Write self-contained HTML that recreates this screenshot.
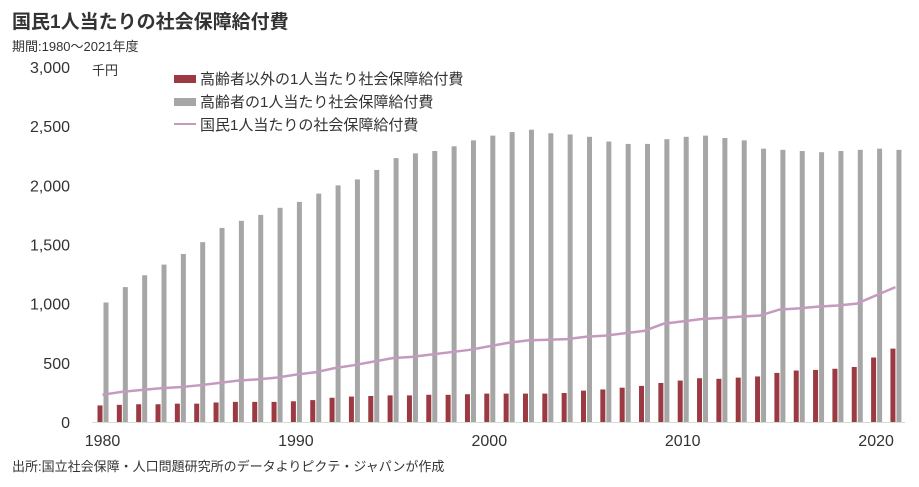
<!DOCTYPE html>
<html><head><meta charset="utf-8">
<style>
body{margin:0;background:#fff;width:919px;height:482px;overflow:hidden;font-family:"Liberation Sans","Noto Sans CJK JP",sans-serif;}
svg text{font-family:"Liberation Sans","Noto Sans CJK JP",sans-serif;}
</style></head>
<body>
<svg id="chart" width="919" height="482">
<text x="12" y="28" font-size="19" font-weight="bold" fill="#333">国民1人当たりの社会保障給付費</text>
<text x="12" y="51" font-size="13" fill="#333">期間:1980～2021年度</text>
<text x="92" y="75" font-size="13" fill="#333">千円</text>
<text x="12" y="471" font-size="13" fill="#333">出所:国立社会保障・人口問題研究所のデータよりピクテ・ジャパンが作成</text>
<g>
<rect x="174" y="75" width="22" height="8" fill="#9b3a42"/>
<text x="200" y="84" font-size="15" fill="#333">高齢者以外の1人当たり社会保障給付費</text>
<rect x="174" y="98" width="22" height="8" fill="#a6a6a6"/>
<text x="200" y="107" font-size="15" fill="#333">高齢者の1人当たり社会保障給付費</text>
<line x1="174" y1="124" x2="196" y2="124" stroke="#c59ac0" stroke-width="2"/>
<text x="200" y="130" font-size="15" fill="#333">国民1人当たりの社会保障給付費</text>
</g>
<g id="plot"></g>
</svg>
<script>
const years=[];for(let y=1980;y<=2021;y++)years.push(y);
const elderly=[1010,1140,1240,1330,1420,1520,1640,1700,1750,1810,1860,1930,2000,2050,2130,2230,2270,2290,2330,2380,2420,2450,2470,2440,2430,2410,2370,2350,2350,2390,2410,2420,2400,2380,2310,2300,2290,2280,2290,2300,2310,2300];
const nonElderly=[140,145,150,150,155,155,165,170,170,170,175,185,205,215,220,225,225,230,230,235,240,240,240,240,245,265,275,290,305,330,350,370,365,375,385,415,435,440,450,465,545,620];
const total=[230,255,270,285,295,310,330,350,360,375,400,420,455,480,510,540,550,570,590,610,640,670,690,695,700,720,730,750,770,830,850,870,880,890,900,950,960,975,985,1000,1070,1140];
const yTicks=[0,500,1000,1500,2000,2500,3000];
const yTickLabels=["0","500","1,000","1,500","2,000","2,500","3,000"];
const xTicks=[1980,1990,2000,2010,2020];

const NS="http://www.w3.org/2000/svg";
const g=document.getElementById('plot');
const xC=yr=>102.5+(yr-1980)*19.34;
const yS=v=>422-v*355/3000;
function mk(tag,attrs){const e=document.createElementNS(NS,tag);for(const k in attrs)e.setAttribute(k,attrs[k]);g.appendChild(e);return e;}

yTicks.forEach((t,i)=>{
  const e=mk('text',{x:70,y:yS(t)+6,'text-anchor':'end','font-size':16,fill:'#333'});
  e.textContent=yTickLabels[i];
  
  
});
xTicks.forEach(t=>{
  const e=mk('text',{x:xC(t),y:446,'text-anchor':'middle','font-size':16,fill:'#333'});
  e.textContent=String(t);
  
  
});
years.forEach((yr,i)=>{
  const c=xC(yr);
  const r=mk('rect',{x:c-5,y:yS(nonElderly[i]),width:5,height:422-yS(nonElderly[i]),fill:'#9b3a42'});
  
  
  const b=mk('rect',{x:c+1,y:yS(elderly[i]),width:5,height:422-yS(elderly[i]),fill:'#a6a6a6'});
  
  
});
const axis=mk('line',{x1:92,y1:422.5,x2:905,y2:422.5,stroke:'#d9d9d9','stroke-width':1});


const pts=years.map((yr,i)=>xC(yr)+','+yS(total[i])).join(' ');
const pl=mk('polyline',{points:pts,fill:'none',stroke:'#c59ac0','stroke-width':2.5});


</script>
</body></html>
